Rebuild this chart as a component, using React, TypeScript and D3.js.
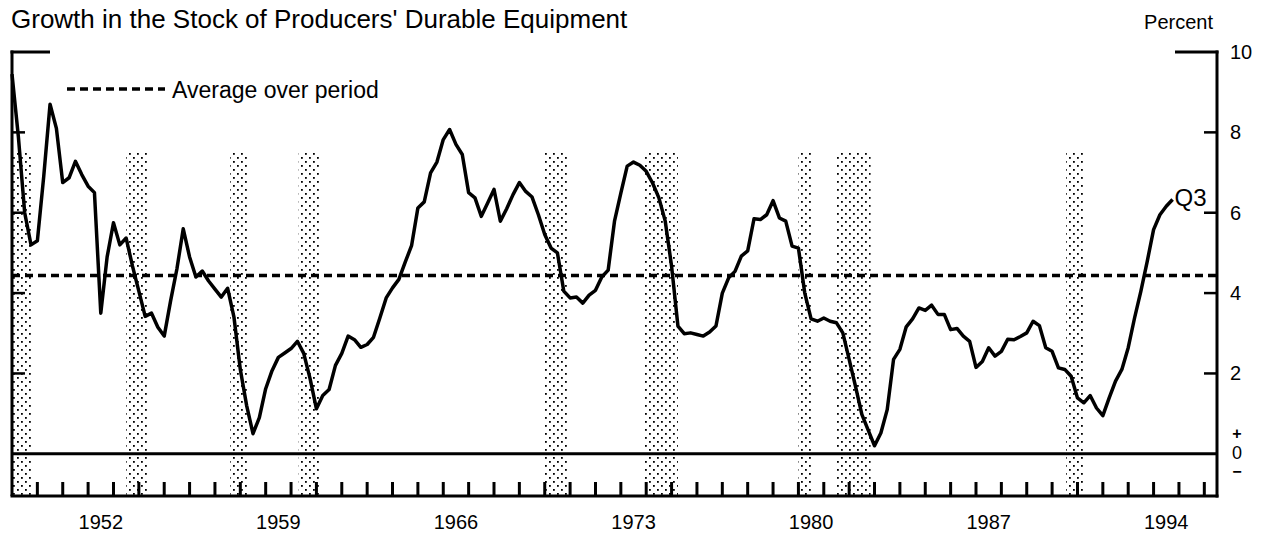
import React from "react";
import * as d3 from "d3";

// Quarterly growth rate (percent), plotted at quarter end; first point is 1948:Q4 (t = 1949.0), last is 1994:Q3
const startTime = 1949.0;
const growth: number[] = [
  9.45, 7.9, 6.0, 5.2,
  5.3, 6.9, 8.7, 8.1,
  6.75, 6.87, 7.28, 6.95,
  6.66, 6.5, 3.5, 4.9,
  5.75, 5.2, 5.37, 4.67,
  4.05, 3.42, 3.5, 3.15,
  2.93, 3.8, 4.6, 5.6,
  4.9, 4.4, 4.55, 4.3,
  4.1, 3.9, 4.12, 3.4,
  2.1, 1.2, 0.5, 0.9,
  1.62, 2.07, 2.4, 2.51,
  2.62, 2.8, 2.5, 1.87,
  1.12, 1.45, 1.6, 2.2,
  2.5, 2.93, 2.84, 2.65,
  2.72, 2.9, 3.38, 3.88,
  4.13, 4.34, 4.77, 5.18,
  6.12, 6.27, 6.99, 7.26,
  7.82, 8.07, 7.7, 7.45,
  6.5, 6.37, 5.91, 6.24,
  6.58, 5.79, 6.1, 6.45,
  6.75, 6.53, 6.39, 5.95,
  5.46, 5.12, 5.0, 4.05,
  3.88, 3.9, 3.75, 3.95,
  4.07, 4.4, 4.57, 5.79,
  6.49, 7.16, 7.26, 7.18,
  7.03, 6.74, 6.37, 5.79,
  4.67, 3.18, 2.99, 3.01,
  2.97, 2.93, 3.03, 3.18,
  4.0, 4.38, 4.54, 4.92,
  5.05, 5.85, 5.83, 5.95,
  6.3, 5.87, 5.79, 5.17,
  5.12, 4.0, 3.36, 3.3,
  3.38, 3.3, 3.26, 3.01,
  2.35, 1.68, 0.98, 0.59,
  0.2, 0.52, 1.1, 2.35,
  2.6, 3.16, 3.36, 3.63,
  3.57, 3.7, 3.47, 3.47,
  3.09, 3.12, 2.93, 2.8,
  2.15, 2.3, 2.64, 2.43,
  2.55, 2.85, 2.84, 2.92,
  3.01, 3.3, 3.19, 2.64,
  2.55, 2.14, 2.1, 1.93,
  1.39, 1.27, 1.45, 1.14,
  0.95, 1.39, 1.81, 2.1,
  2.64, 3.38, 4.05, 4.79,
  5.58, 5.95, 6.16, 6.33,
];

// Recession periods (shaded)
const recessionStarts = [1949.0, 1953.5, 1957.6, 1960.3, 1969.95, 1973.9, 1980.0, 1981.5, 1990.55];
const recessionEnds = [1949.8, 1954.35, 1958.3, 1961.12, 1970.9, 1975.25, 1980.55, 1982.85, 1991.25];

const averageOverPeriod = 4.44;
const yTickValues = [2, 4, 6, 8];
const yTickLabels = ["2", "4", "6", "8", "10"];
const yLabelValues = [2, 4, 6, 8, 10];
const yearTicks = d3.range(1950, 1997);
const yearLabels = [1952, 1959, 1966, 1973, 1980, 1987, 1994];

const FONT = "'Liberation Sans', Arial, Helvetica, sans-serif";

export default function App() {
  const W = 1262;
  const H = 534;
  const x = d3.scaleLinear().domain([1949, 1996.5]).range([12, 1217]);
  const y = d3.scaleLinear().domain([-1.05, 10]).range([496, 52]);

  const pts: [number, number][] = growth.map((v, i) => [startTime + i * 0.25, v]);
  const linePath = d3
    .line<[number, number]>()
    .x((d) => x(d[0]))
    .y((d) => y(d[1]))(pts) as string;

  const x0 = x(1949);
  const x1 = x(1996.5);
  const yBottom = y(-1.05);
  const yTop = y(10);
  const last = pts[pts.length - 1];

  return (
    <svg
      width={W}
      height={H}
      style={{ position: "absolute", left: 0, top: 0, background: "#fff" }}
      fontFamily={FONT}
    >
      <defs>
        <pattern id="stipple" width={8} height={8} patternUnits="userSpaceOnUse">
          <rect x={1} y={1} width={1.8} height={1.8} fill="#000" />
          <rect x={5} y={5} width={1.8} height={1.8} fill="#000" />
        </pattern>
      </defs>
      <rect x={0} y={0} width={W} height={H} fill="#fff" />

      {/* recession shading */}
      {recessionStarts.map((s, i) => (
        <rect
          key={i}
          x={x(s)}
          y={y(7.5)}
          width={x(recessionEnds[i]) - x(s)}
          height={yBottom - y(7.5)}
          fill="url(#stipple)"
        />
      ))}

      {/* zero line */}
      <line x1={x0} x2={x1} y1={y(0)} y2={y(0)} stroke="#000" strokeWidth={3} />

      {/* average line */}
      <line
        x1={x0}
        x2={x1}
        y1={y(averageOverPeriod)}
        y2={y(averageOverPeriod)}
        stroke="#000"
        strokeWidth={3.5}
        strokeDasharray="8 5"
      />

      {/* data line */}
      <path d={linePath} fill="none" stroke="#000" strokeWidth={3.5} strokeLinejoin="round" />

      {/* frame */}
      <line x1={x0} x2={x0} y1={yTop - 1.5} y2={yBottom} stroke="#000" strokeWidth={3} />
      <line x1={x0 - 1.5} x2={50} y1={yTop} y2={yTop} stroke="#000" strokeWidth={3} />
      <line x1={x1} x2={x1} y1={yTop - 1.5} y2={yBottom + 1.5} stroke="#000" strokeWidth={3} />
      <line x1={1175} x2={x1 + 1.5} y1={yTop} y2={yTop} stroke="#000" strokeWidth={3} />
      <line x1={x0 - 1.5} x2={x1 + 1.5} y1={yBottom} y2={yBottom} stroke="#000" strokeWidth={3} />

      {/* y ticks */}
      {yTickValues.map((v) => (
        <g key={v}>
          <line x1={x0} x2={x0 + 13} y1={y(v)} y2={y(v)} stroke="#000" strokeWidth={2.5} />
          <line x1={x1 - 13} x2={x1} y1={y(v)} y2={y(v)} stroke="#000" strokeWidth={2.5} />
        </g>
      ))}

      {/* x ticks */}
      {yearTicks.map((t) => (
        <line key={t} x1={x(t)} x2={x(t)} y1={yBottom} y2={yBottom - 14} stroke="#000" strokeWidth={3} />
      ))}

      {/* y labels */}
      {yLabelValues.map((v, i) => (
        <text key={v} x={1230} y={y(v)} dy="0.35em" fontSize={20} fill="#000">
          {yTickLabels[i]}
        </text>
      ))}
      <text x={1237} y={y(0.5)} dy="0.35em" fontSize={16} fontWeight="bold" textAnchor="middle">+</text>
      <text x={1237} y={y(0.02)} dy="0.35em" fontSize={18} textAnchor="middle">0</text>
      <text x={1237} y={y(-0.45)} dy="0.35em" fontSize={16} fontWeight="bold" textAnchor="middle">−</text>

      {/* x labels */}
      {yearLabels.map((yr) => (
        <text key={yr} x={x(yr + 0.5)} y={529} fontSize={20} textAnchor="middle">
          {yr}
        </text>
      ))}

      {/* title and unit */}
      <text x={11} y={28} fontSize={26}>
        Growth in the Stock of Producers' Durable Equipment
      </text>
      <text x={1213} y={29} fontSize={20} textAnchor="end">
        Percent
      </text>

      {/* legend */}
      <line x1={67} x2={165} y1={89} y2={89} stroke="#000" strokeWidth={3.5} strokeDasharray="8 5" />
      <text x={172} y={98} fontSize={23}>
        Average over period
      </text>

      {/* Q3 label */}
      <text x={x(last[0]) + 2} y={206} fontSize={24}>
        Q3
      </text>
    </svg>
  );
}
